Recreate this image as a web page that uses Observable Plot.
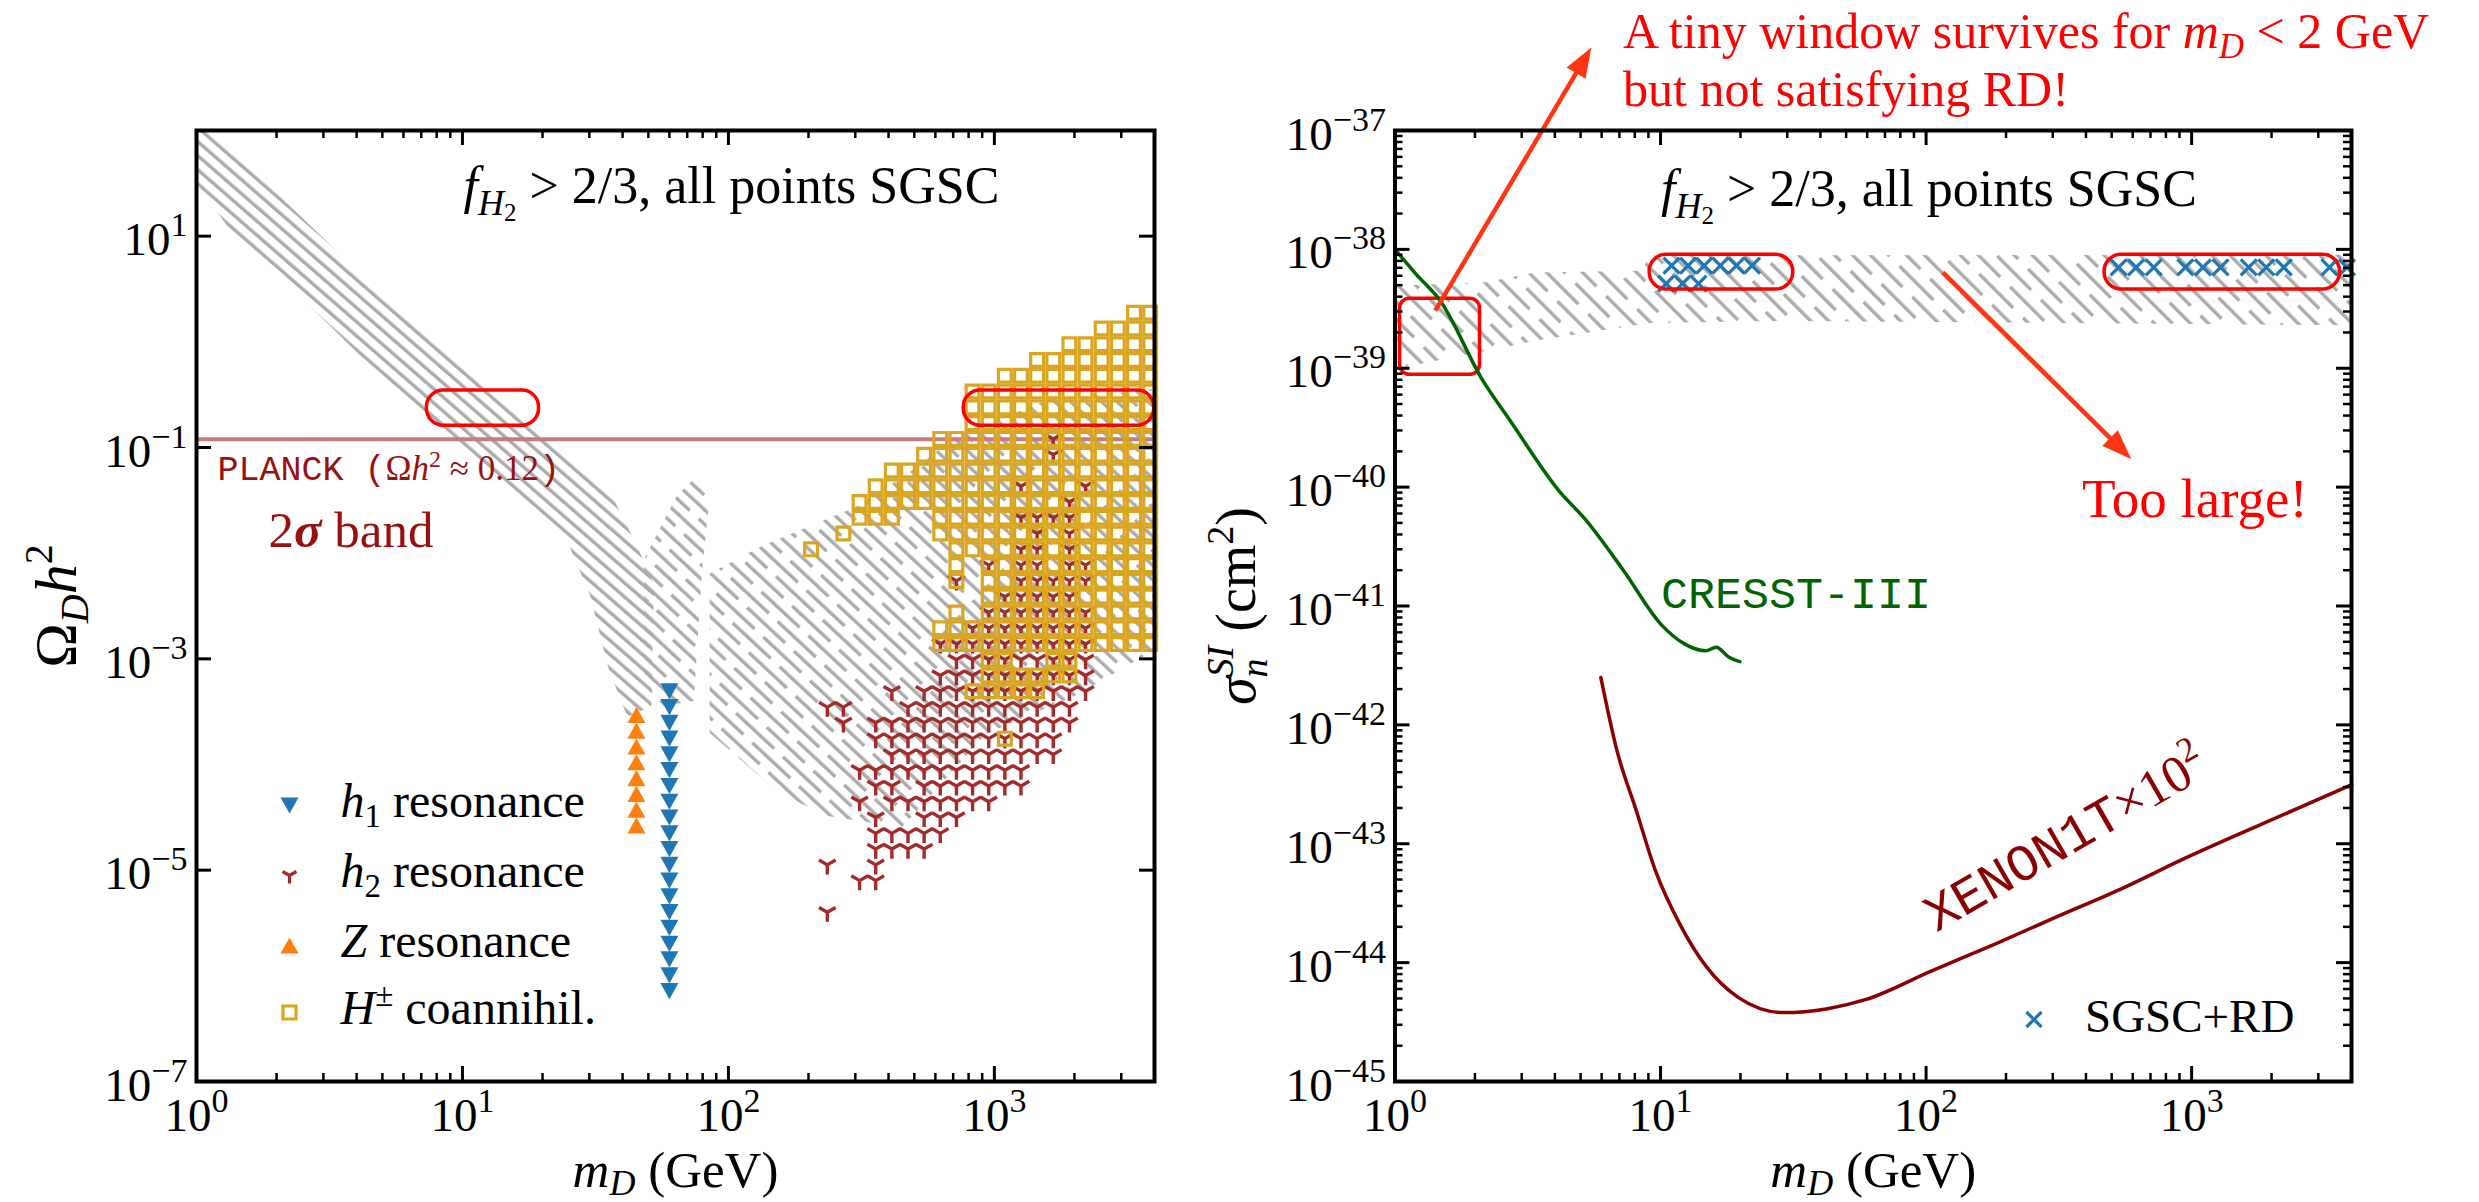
<!DOCTYPE html>
<html><head><meta charset="utf-8">
<script src="https://cdn.jsdelivr.net/npm/d3@7"></script>
<script src="https://cdn.jsdelivr.net/npm/@observablehq/plot@0.6"></script>
<style>
html,body{margin:0;padding:0;background:#fff}
#wrap{position:relative;width:2479px;height:1202px;overflow:hidden;background:#fff}
#pl,#pr{position:absolute;top:0}
#pl{left:0}#pr{left:1200px}
</style></head><body>
<svg width="0" height="0" style="position:absolute"><defs>
<pattern id="hatchL" patternUnits="userSpaceOnUse" width="10.6" height="20" patternTransform="rotate(-49)"><rect x="0" y="0" width="3.4" height="20" fill="#ababab"/></pattern>
<pattern id="hatchLd" patternUnits="userSpaceOnUse" width="21.2" height="64" patternTransform="rotate(-47)">
 <rect x="0" y="0" width="3.4" height="52" fill="#ababab"/>
 <rect x="10.6" y="32" width="3.4" height="52" fill="#ababab"/>
 <rect x="10.6" y="-32" width="3.4" height="52" fill="#ababab"/>
</pattern>
<pattern id="hatchR" patternUnits="userSpaceOnUse" width="25.4" height="62" patternTransform="rotate(-45)">
 <rect x="0" y="0" width="3.4" height="48" fill="#ababab"/>
 <rect x="12.7" y="31" width="3.4" height="48" fill="#ababab"/>
 <rect x="12.7" y="-31" width="3.4" height="48" fill="#ababab"/>
</pattern>
</defs></svg>
<div id="wrap"><div id="pl"></div><div id="pr"></div></div>
<script>
// ================= DATA =================
const xDomain = [1, 4000];
const yDomainL = [1e-7, 100];
const yDomainR = [1e-45, 1e-37];

// tick values and labels
const xMajor = [1, 10, 100, 1000];
const xMajorLabels = ["10^{0}", "10^{1}", "10^{2}", "10^{3}"];
const xMinor = [2,3,4,5,6,7,8,9,20,30,40,50,60,70,80,90,200,300,400,500,600,700,800,900,2000,3000];
const yMajorL = [10, 0.1, 1e-3, 1e-5];
const yLabelValsL = [10, 0.1, 1e-3, 1e-5, 1e-7];
const yLabelsL = ["10^{1}", "10^{−1}", "10^{−3}", "10^{−5}", "10^{−7}"];
const yMajorR = [1e-45,1e-44,1e-43,1e-42,1e-41,1e-40,1e-39,1e-38,1e-37];
const yLabelsR = ["10^{−45}","10^{−44}","10^{−43}","10^{−42}","10^{−41}","10^{−40}","10^{−39}","10^{−38}","10^{−37}"];

// scan grid of the left panel (columns in m_D, rows in Omega h^2)
const gridX = [204.6,235.4,270.6,311.3,357.9,411.7,473.4,544.4,626.0,720.0,827.9,952.1,1095,1259,1448,1665,1915,2202,2532,2912,3350,3853];
const gridY = [1.887,1.338,0.9489,0.6728,0.4771,0.3383,0.2399,0.1701,0.1206,0.08552,0.06064,0.04300,0.03049,0.02162,0.01533,0.01087,7.71e-3,5.465e-3,3.876e-3,2.748e-3,1.949e-3,1.382e-3,9.80e-4,6.95e-4,4.93e-4,3.49e-4,2.48e-4,1.757e-4,1.246e-4,8.83e-5,6.26e-5,4.44e-5,3.15e-5,2.23e-5,1.583e-5,1.122e-5,7.96e-6,5.65e-6,4.00e-6];
// H± coannihilation points (one string per gridY row, '#' = point at gridX column)
const hpmMap = [
"....................##","..................####","................######","..............########",
"............##########","..........############","..........############","..........############",
"........##############",".......###############",".....#################","....##################",
"...###################","...###..##############","..#.....##############","#........#############",
".........#.###########",".........#.###########","...........###########",".........#.###########",
"........##############","........##############","...........##..##.....","...........######.....",
"..........#####.......","","","............#","","","","","","","","","","",""];
// h2 resonance points
const h2Map = [
"","","","","","","","",
"...............#","...............#","",".............#...#",
"................#",".............####","..............#.#",".............##.#",
"...........#.##.##",".........#...#####","............#####","...........#######",
"..........########","........##########",".........#########","........##########",
".....#.###########",".##...###########","..#.#############","....############",
".....###########","...###########","....##.#######","...#.#######",
"....#..###","....#####","....####",".#..#","...##","",".#"];
// h1 resonance
const h1X = 60;
const h1Y = [4.93e-4,3.49e-4,2.48e-4,1.76e-4,1.245e-4,8.83e-5,6.26e-5,4.44e-5,3.15e-5,2.23e-5,1.58e-5,1.12e-5,7.96e-6,5.65e-6,4.00e-6,2.84e-6,2.01e-6,1.43e-6,1.01e-6,7.18e-7];
// Z resonance
const zX = 45.1;
const zY = [2.94e-4,2.09e-4,1.48e-4,1.05e-4,7.44e-5,5.27e-5,3.74e-5,2.65e-5];
// all-SGSC points region (gray), outlines
const grayA_x = [1,1.122,1.514,5.37,27.5,37.2,45.7,52.5,51.3,41.7,35.5,30.2,25.1,6.84,3.46,1.318,1];
const grayA_y = [97.7,97.7,50.1,2.34,0.0692,0.0316,0.0112,0.00501,3.55e-4,2.82e-4,7.94e-4,3.98e-3,0.0120,0.207,1.146,12.1,31.6];
const grayV_x = [64.0,74.1,85.1,79.4,74.1,56.2,48.2,48.2];
const grayV_y = [0.0350,0.0501,0.0355,6.31e-3,3.98e-4,3.55e-4,5.75e-4,8.79e-3];
const grayB_x = [85,133,303,501,708,1585,3981,3981,3076,2065,931,448,230,152,85];
const grayB_y = [6.4e-3,0.0116,0.0275,0.0631,0.126,0.282,0.355,1.2e-3,8.32e-4,4.62e-4,1.95e-4,2.53e-5,3.3e-5,5.6e-5,2.0e-4];
const planckY = 0.12;
const boxesL_x1 = [7.35, 767], boxesL_x2 = [19.4, 3990], boxesL_y1 = [0.161, 0.161], boxesL_y2 = [0.347, 0.347];

// ---- right panel ----
const grayR_x = [1,2.2,3.37,8.5,9.1,4000,4000,30.3,9.1,3.37,2.2,1];
const grayR_y = [4.95e-39,5.3e-39,6.4e-39,6.6e-39,8.9e-39,9.0e-39,2.3e-39,2.5e-39,2.4e-39,1.7e-39,1.4e-39,9.9e-40];
const rdX = [11.0,12.7,14.6,16.8,19.3,22.1,10.5,12.1,13.9,531,618,720,947,1103,1285,1641,1910,2223,3304,3846];
const rdY = [7.3e-39,7.3e-39,7.3e-39,7.3e-39,7.3e-39,7.3e-39,5.15e-39,5.15e-39,5.15e-39,7.06e-39,7.06e-39,7.06e-39,7.06e-39,7.06e-39,7.06e-39,7.06e-39,7.06e-39,7.06e-39,7.06e-39,7.06e-39];
const cresstX = [1,1.2,1.48,2.14,2.72,4.16,5.19,7.24,10.1,12.3,14.8,16.2,18.1,19.9];
const cresstY = [1e-38,6.2e-39,3.7e-39,7.9e-40,3.6e-40,9.2e-41,5.4e-41,2.0e-41,6.9e-42,4.8e-42,4.2e-42,4.5e-42,3.7e-42,3.4e-42];
const xenonX = [5.96,6.85,8.09,9.55,11.9,14.9,19.6,28.9,42.6,59.5,103.5,180,313,546,950,1845,4010];
const xenonY = [2.5e-42,6.1e-43,1.92e-43,6.0e-44,2.05e-44,9.2e-45,5.1e-45,3.8e-45,4.1e-45,4.9e-45,8.4e-45,1.42e-44,2.45e-44,4.2e-44,7.6e-44,1.47e-43,3.14e-43];
const boxesR_x1 = [1.045, 9.1, 470], boxesR_x2 = [2.09, 31.6, 3622];
const boxesR_y1 = [8.8e-40, 4.6e-39, 4.6e-39], boxesR_y2 = [3.85e-39, 9.0e-39, 9.0e-39];
const boxesR_rx = [10, 17, 17];
const arrow1 = {x0: 1.418, y0: 3.05e-39, x1: 5.49, y1: 5.0e-37};
const arrow2 = {x0: 115.6, y0: 6.4e-39, x1: 593, y1: 1.72e-40};
const xenonLabelAt = {x: 109.4, y: 1.79e-44};

// ================= STYLE =================
const FONT = "'Liberation Serif','DejaVu Serif',serif";
const MONO = "'Liberation Mono','DejaVu Sans Mono',monospace";
const C = {gray:"#ababab", blue:"#1f77b4", orange:"#ff7f0e", brown:"#a52a2a", gold:"#daa520", red:"#ff0000",
           arrow:"#ff3412", planck:"#c47c7c", dred:"#8b0000", green:"#006400", textred:"#9a1010"};
const H = 1202, MT = 130, MB = 121;
const FH = H - MT - MB;

const rad = s => Math.sqrt(s / Math.PI);
const sym = {
  triDown: {draw(c, s){const r = rad(s); c.moveTo(-r, -0.9*r); c.lineTo(r, -0.9*r); c.lineTo(0, 0.9*r); c.closePath();}},
  triUp: {draw(c, s){const r = rad(s); c.moveTo(-r, 0.9*r); c.lineTo(r, 0.9*r); c.lineTo(0, -0.9*r); c.closePath();}},
  tri1: {draw(c, s){const r = rad(s); c.moveTo(0,0); c.lineTo(0, r); c.moveTo(0,0); c.lineTo(-0.866*r, -0.5*r); c.moveTo(0,0); c.lineTo(0.866*r, -0.5*r);}},
  square: {draw(c, s){const r = rad(s); c.moveTo(-r,-r); c.lineTo(r,-r); c.lineTo(r,r); c.lineTo(-r,r); c.closePath();}},
  cross: {draw(c, s){const r = rad(s); c.moveTo(-r,-r); c.lineTo(r,r); c.moveTo(-r,r); c.lineTo(r,-r);}}
};

// rich text (sub/superscripts) applied after rendering; the text stays real text
const RICH = {
  "§title": `<tspan font-style="italic">f</tspan><tspan font-style="italic" font-size="36" dy="12">H</tspan><tspan font-size="25" dy="6">2</tspan><tspan dy="-18"> &gt; 2/3, all points SGSC</tspan>`,
  "§xlab": `<tspan font-style="italic">m</tspan><tspan font-style="italic" font-size="36" dy="8">D</tspan><tspan dy="-8"> (GeV)</tspan>`,
  "§ylabL": `Ω<tspan font-style="italic" font-size="40" dy="12">D</tspan><tspan font-style="italic" dy="-12">h</tspan><tspan font-size="40" dy="-24">2</tspan>`,
  "§ylabR": `<tspan font-style="italic">σ</tspan><tspan font-style="italic" font-size="38" dy="12">n</tspan><tspan font-style="italic" font-size="38" dx="-19" dy="-34">SI</tspan><tspan dy="22"> (cm</tspan><tspan font-size="38" dy="-22">2</tspan><tspan dy="22">)</tspan>`,
  "§h1": `<tspan font-style="italic">h</tspan><tspan font-size="33" dy="10">1</tspan><tspan dy="-10"> resonance</tspan>`,
  "§h2": `<tspan font-style="italic">h</tspan><tspan font-size="33" dy="10">2</tspan><tspan dy="-10"> resonance</tspan>`,
  "§z": `<tspan font-style="italic">Z</tspan> resonance`,
  "§hpm": `<tspan font-style="italic">H</tspan><tspan font-size="33" dy="-18">±</tspan><tspan dy="18"> coannihil.</tspan>`,
  "§planck": `<tspan font-family="${MONO}">PLANCK (</tspan>Ω<tspan font-style="italic">h</tspan><tspan font-size="24" dy="-13">2</tspan><tspan dy="13"> ≈ 0.12</tspan><tspan font-family="${MONO}">)</tspan>`,
  "§band": `2<tspan font-style="italic" font-weight="bold">σ</tspan> band`,
  "§tiny": `A tiny window survives for <tspan font-style="italic">m</tspan><tspan font-style="italic" font-size="35" dy="10">D</tspan><tspan dy="-10"> &lt; 2 GeV</tspan>`,
  "§xenon": `<tspan font-family="${MONO}">XENON1T</tspan>×10<tspan font-size="35" dy="-22">2</tspan>`
};
function rich(svg){
  svg.querySelectorAll("text").forEach(t => {
    const s = t.textContent;
    if (RICH[s]) { t.innerHTML = RICH[s]; return; }
    const m = s.match(/^10\^\{(.+)\}$/);
    if (m) t.innerHTML = `10<tspan font-size="34" dy="-19">${m[1]}</tspan>`;
  });
}

function frameMarks(FW, yMaj, yMin){
  const t = [];
  t.push(Plot.tickX(xMajor, {x: d => d, insetTop: FH - 15, stroke: "black", strokeWidth: 3}));
  t.push(Plot.tickX(xMajor, {x: d => d, insetBottom: FH - 15, stroke: "black", strokeWidth: 3}));
  t.push(Plot.tickX(xMinor, {x: d => d, insetTop: FH - 8, stroke: "black", strokeWidth: 2.5}));
  t.push(Plot.tickX(xMinor, {x: d => d, insetBottom: FH - 8, stroke: "black", strokeWidth: 2.5}));
  t.push(Plot.tickY(yMaj, {y: d => d, insetRight: FW - 15, stroke: "black", strokeWidth: 3}));
  t.push(Plot.tickY(yMaj, {y: d => d, insetLeft: FW - 15, stroke: "black", strokeWidth: 3}));
  if (yMin.length) {
    t.push(Plot.tickY(yMin, {y: d => d, insetRight: FW - 8, stroke: "black", strokeWidth: 2.5}));
    t.push(Plot.tickY(yMin, {y: d => d, insetLeft: FW - 8, stroke: "black", strokeWidth: 2.5}));
  }
  t.push(Plot.frame({stroke: "black", strokeWidth: 4}));
  t.push(Plot.text(xMajor, {x: d => d, frameAnchor: "bottom", dy: 49, lineAnchor: "bottom", textAnchor: "middle", text: (d, i) => xMajorLabels[i], fontSize: 47, fill: "black", fontFamily: FONT}));
  return t;
}
const txt = (key, o) => Plot.text([key], {text: d => d, fontFamily: FONT, fill: "black", ...o});

// ================= LEFT PANEL =================
const WL = 1200, MLL = 196, MRL = 46;
const grayBand = grayA_x.map((x, i) => ({x, y: grayA_y[i]}));
const grayMid = [
  ...grayV_x.map((x, i) => ({g: "V", x, y: grayV_y[i]})),
  ...grayB_x.map((x, i) => ({g: "B", x, y: grayB_y[i]}))
];
const fromMap = map => map.flatMap((row, r) => [...row].map((c, i) => c === "#" ? {x: gridX[i], y: gridY[r]} : null).filter(d => d));
const hpmPts = fromMap(hpmMap), h2Pts = fromMap(h2Map);
const boxesL = boxesL_x1.map((x1, i) => ({x1, x2: boxesL_x2[i], y1: boxesL_y1[i], y2: boxesL_y2[i]}));

const legRows = [
  {key: "§h1", symbol: sym.triDown, fill: C.blue, stroke: "none", r: 9, dy: 675},
  {key: "§h2", symbol: sym.tri1, fill: "none", stroke: C.brown, r: 8, dy: 745},
  {key: "§z", symbol: sym.triUp, fill: C.orange, stroke: "none", r: 9, dy: 815},
  {key: "§hpm", symbol: sym.square, fill: "none", stroke: C.gold, r: 6.5, dy: 882}
];

const left = Plot.plot({
  width: WL, height: H, marginLeft: MLL, marginRight: MRL, marginTop: MT, marginBottom: MB,
  x: {type: "log", domain: xDomain, axis: null},
  y: {type: "log", domain: yDomainL, axis: null},
  style: {fontFamily: FONT, background: "white", overflow: "visible"},
  marks: [
    Plot.line(grayBand, {x: "x", y: "y", fill: "url(#hatchL)", stroke: "none", curve: "linear-closed"}),
    Plot.line(grayMid, {x: "x", y: "y", z: "g", fill: "url(#hatchLd)", stroke: "none", curve: "linear-closed"}),
    Plot.ruleY([planckY], {stroke: C.planck, strokeWidth: 4}),
    Plot.dot(h2Pts, {x: "x", y: "y", symbol: sym.tri1, r: 9.6, fill: "none", stroke: C.brown, strokeWidth: 3.4}),
    Plot.dot(hpmPts, {x: "x", y: "y", symbol: sym.square, r: 6.4, fill: "none", stroke: C.gold, strokeWidth: 3.2}),
    Plot.dot(zY, {x: () => zX, y: d => d, symbol: sym.triUp, r: 9, fill: C.orange, stroke: "none"}),
    Plot.dot(h1Y, {x: () => h1X, y: d => d, symbol: sym.triDown, r: 9, fill: C.blue, stroke: "none"}),
    Plot.rect(boxesL, {x1: "x1", x2: "x2", y1: "y1", y2: "y2", rx: 17, fill: "none", stroke: C.red, strokeWidth: 3.5}),
    ...legRows.map(l => Plot.dot([0], {frameAnchor: "top-left", dx: 93, dy: l.dy, symbol: l.symbol, r: l.r, fill: l.fill, stroke: l.stroke, strokeWidth: 3.2})),
    ...legRows.map(l => txt(l.key, {frameAnchor: "top-left", dx: 144, dy: l.dy + 11, lineAnchor: "bottom", textAnchor: "start", fontSize: 48})),
    txt("§planck", {frameAnchor: "top-left", dx: 21, dy: 349, lineAnchor: "bottom", textAnchor: "start", fontSize: 35, fill: C.textred}),
    txt("§band", {frameAnchor: "top-left", dx: 72, dy: 416, lineAnchor: "bottom", textAnchor: "start", fontSize: 51, fill: C.textred}),
    txt("§title", {frameAnchor: "top-left", dx: 267, dy: 72, lineAnchor: "bottom", textAnchor: "start", fontSize: 52}),
    ...frameMarks(WL - MLL - MRL, yMajorL, []),
    Plot.text(yLabelValsL, {y: d => d, frameAnchor: "left", dx: -9, dy: 19, textAnchor: "end", lineAnchor: "bottom", text: (d, i) => yLabelsL[i], fontSize: 47, fill: "black", fontFamily: FONT}),
    txt("§xlab", {frameAnchor: "bottom", dy: 105, lineAnchor: "bottom", textAnchor: "middle", fontSize: 51}),
    txt("§ylabL", {frameAnchor: "left", dx: -140, rotate: -90, lineAnchor: "middle", textAnchor: "middle", fontSize: 60})
  ]
});
rich(left);
document.getElementById("pl").append(left);

// ================= RIGHT PANEL =================
const WR = 1279, MLR = 194.5, MRR = 128;
const FWR = WR - MLR - MRR;
const yMinorR = [];
for (const d of yMajorR.slice(0, -1)) for (const m of [2,3,4,5,6,7,8,9]) yMinorR.push(m * d);
const xsR = Plot.scale({x: {type: "log", domain: xDomain, range: [MLR, WR - MRR]}});
const ysR = Plot.scale({y: {type: "log", domain: yDomainR, range: [H - MB, MT]}});
function arrowParts(a, L, w){
  const X0 = xsR.apply(a.x0), Y0 = ysR.apply(a.y0), X1 = xsR.apply(a.x1), Y1 = ysR.apply(a.y1);
  const ang = Math.atan2(Y1 - Y0, X1 - X0), ux = Math.cos(ang), uy = Math.sin(ang);
  const shaft = {x1: a.x0, y1: a.y0, x2: xsR.invert(X1 - ux * L * 0.7), y2: ysR.invert(Y1 - uy * L * 0.7)};
  const head = {draw(c){ const bx = -L*ux, by = -L*uy, px = -uy, py = ux;
    c.moveTo(0, 0); c.lineTo(bx + w*px, by + w*py); c.lineTo(bx - w*px, by - w*py); c.closePath(); }};
  return {shaft, head, tip: {x: a.x1, y: a.y1}};
}
const A1 = arrowParts(arrow1, 30, 11), A2 = arrowParts(arrow2, 30, 11);
const grayRpoly = grayR_x.map((x, i) => ({x, y: grayR_y[i]}));
const rdPts = rdX.map((x, i) => ({x, y: rdY[i]}));
const boxesR = boxesR_x1.map((x1, i) => ({x1, x2: boxesR_x2[i], y1: boxesR_y1[i], y2: boxesR_y2[i], rx: boxesR_rx[i]}));

const right = Plot.plot({
  width: WR, height: H, marginLeft: MLR, marginRight: MRR, marginTop: MT, marginBottom: MB,
  x: {type: "log", domain: xDomain, axis: null},
  y: {type: "log", domain: yDomainR, axis: null},
  style: {fontFamily: FONT, background: "white", overflow: "visible"},
  marks: [
    Plot.line(grayRpoly, {x: "x", y: "y", fill: "url(#hatchR)", stroke: "none", curve: "linear-closed"}),
    Plot.dot(rdPts, {x: "x", y: "y", symbol: sym.cross, r: 8, fill: "none", stroke: C.blue, strokeWidth: 3.3}),
    ...boxesR.map(b => Plot.rect([b], {x1: "x1", x2: "x2", y1: "y1", y2: "y2", rx: b.rx, fill: "none", stroke: C.red, strokeWidth: 3.5})),
    Plot.line(cresstX.map((x, i) => ({x, y: cresstY[i]})), {x: "x", y: "y", stroke: C.green, strokeWidth: 3.5, curve: "monotone-x"}),
    Plot.line(xenonX.map((x, i) => ({x, y: xenonY[i]})), {x: "x", y: "y", stroke: C.dred, strokeWidth: 3.5, curve: "monotone-x"}),
    Plot.link([A1.shaft, A2.shaft], {x1: "x1", y1: "y1", x2: "x2", y2: "y2", stroke: C.arrow, strokeWidth: 4.5}),
    Plot.dot([A1.tip], {x: "x", y: "y", symbol: A1.head, r: 5, fill: C.arrow, stroke: "none"}),
    Plot.dot([A2.tip], {x: "x", y: "y", symbol: A2.head, r: 5, fill: C.arrow, stroke: "none"}),
    txt("§title", {frameAnchor: "top-left", dx: 266, dy: 75, lineAnchor: "bottom", textAnchor: "start", fontSize: 52}),
    txt("§tiny", {frameAnchor: "top-left", dx: 228, dy: -83, lineAnchor: "bottom", textAnchor: "start", fontSize: 50, fill: C.red}),
    txt("but not satisfying RD!", {frameAnchor: "top-left", dx: 228, dy: -25, lineAnchor: "bottom", textAnchor: "start", fontSize: 50, fill: C.red}),
    txt("Too large!", {frameAnchor: "top-left", dx: 687, dy: 386, lineAnchor: "bottom", textAnchor: "start", fontSize: 55, fill: C.red}),
    txt("CRESST-III", {frameAnchor: "top-left", dx: 266, dy: 477, lineAnchor: "bottom", textAnchor: "start", fontSize: 45, fill: C.green, fontFamily: MONO}),
    Plot.text([xenonLabelAt], {x: "x", y: "y", text: () => "§xenon", rotate: -30, textAnchor: "start", lineAnchor: "bottom", fontSize: 52, fill: C.dred, fontFamily: FONT}),
    Plot.dot([0], {frameAnchor: "top-left", dx: 639, dy: 889, symbol: sym.cross, r: 7.5, fill: "none", stroke: C.blue, strokeWidth: 3.3}),
    txt("SGSC+RD", {frameAnchor: "top-left", dx: 690, dy: 901, lineAnchor: "bottom", textAnchor: "start", fontSize: 47}),
    ...frameMarks(FWR, yMajorR, yMinorR),
    Plot.text(yMajorR, {y: d => d, frameAnchor: "left", dx: -9, dy: 19, textAnchor: "end", lineAnchor: "bottom", text: (d, i) => yLabelsR[i], fontSize: 47, fill: "black", fontFamily: FONT}),
    txt("§xlab", {frameAnchor: "bottom", dy: 105, lineAnchor: "bottom", textAnchor: "middle", fontSize: 51}),
    txt("§ylabR", {frameAnchor: "left", dx: -158, rotate: -90, lineAnchor: "middle", textAnchor: "middle", fontSize: 56})
  ]
});
rich(right);
document.getElementById("pr").append(right);
</script></body></html>
